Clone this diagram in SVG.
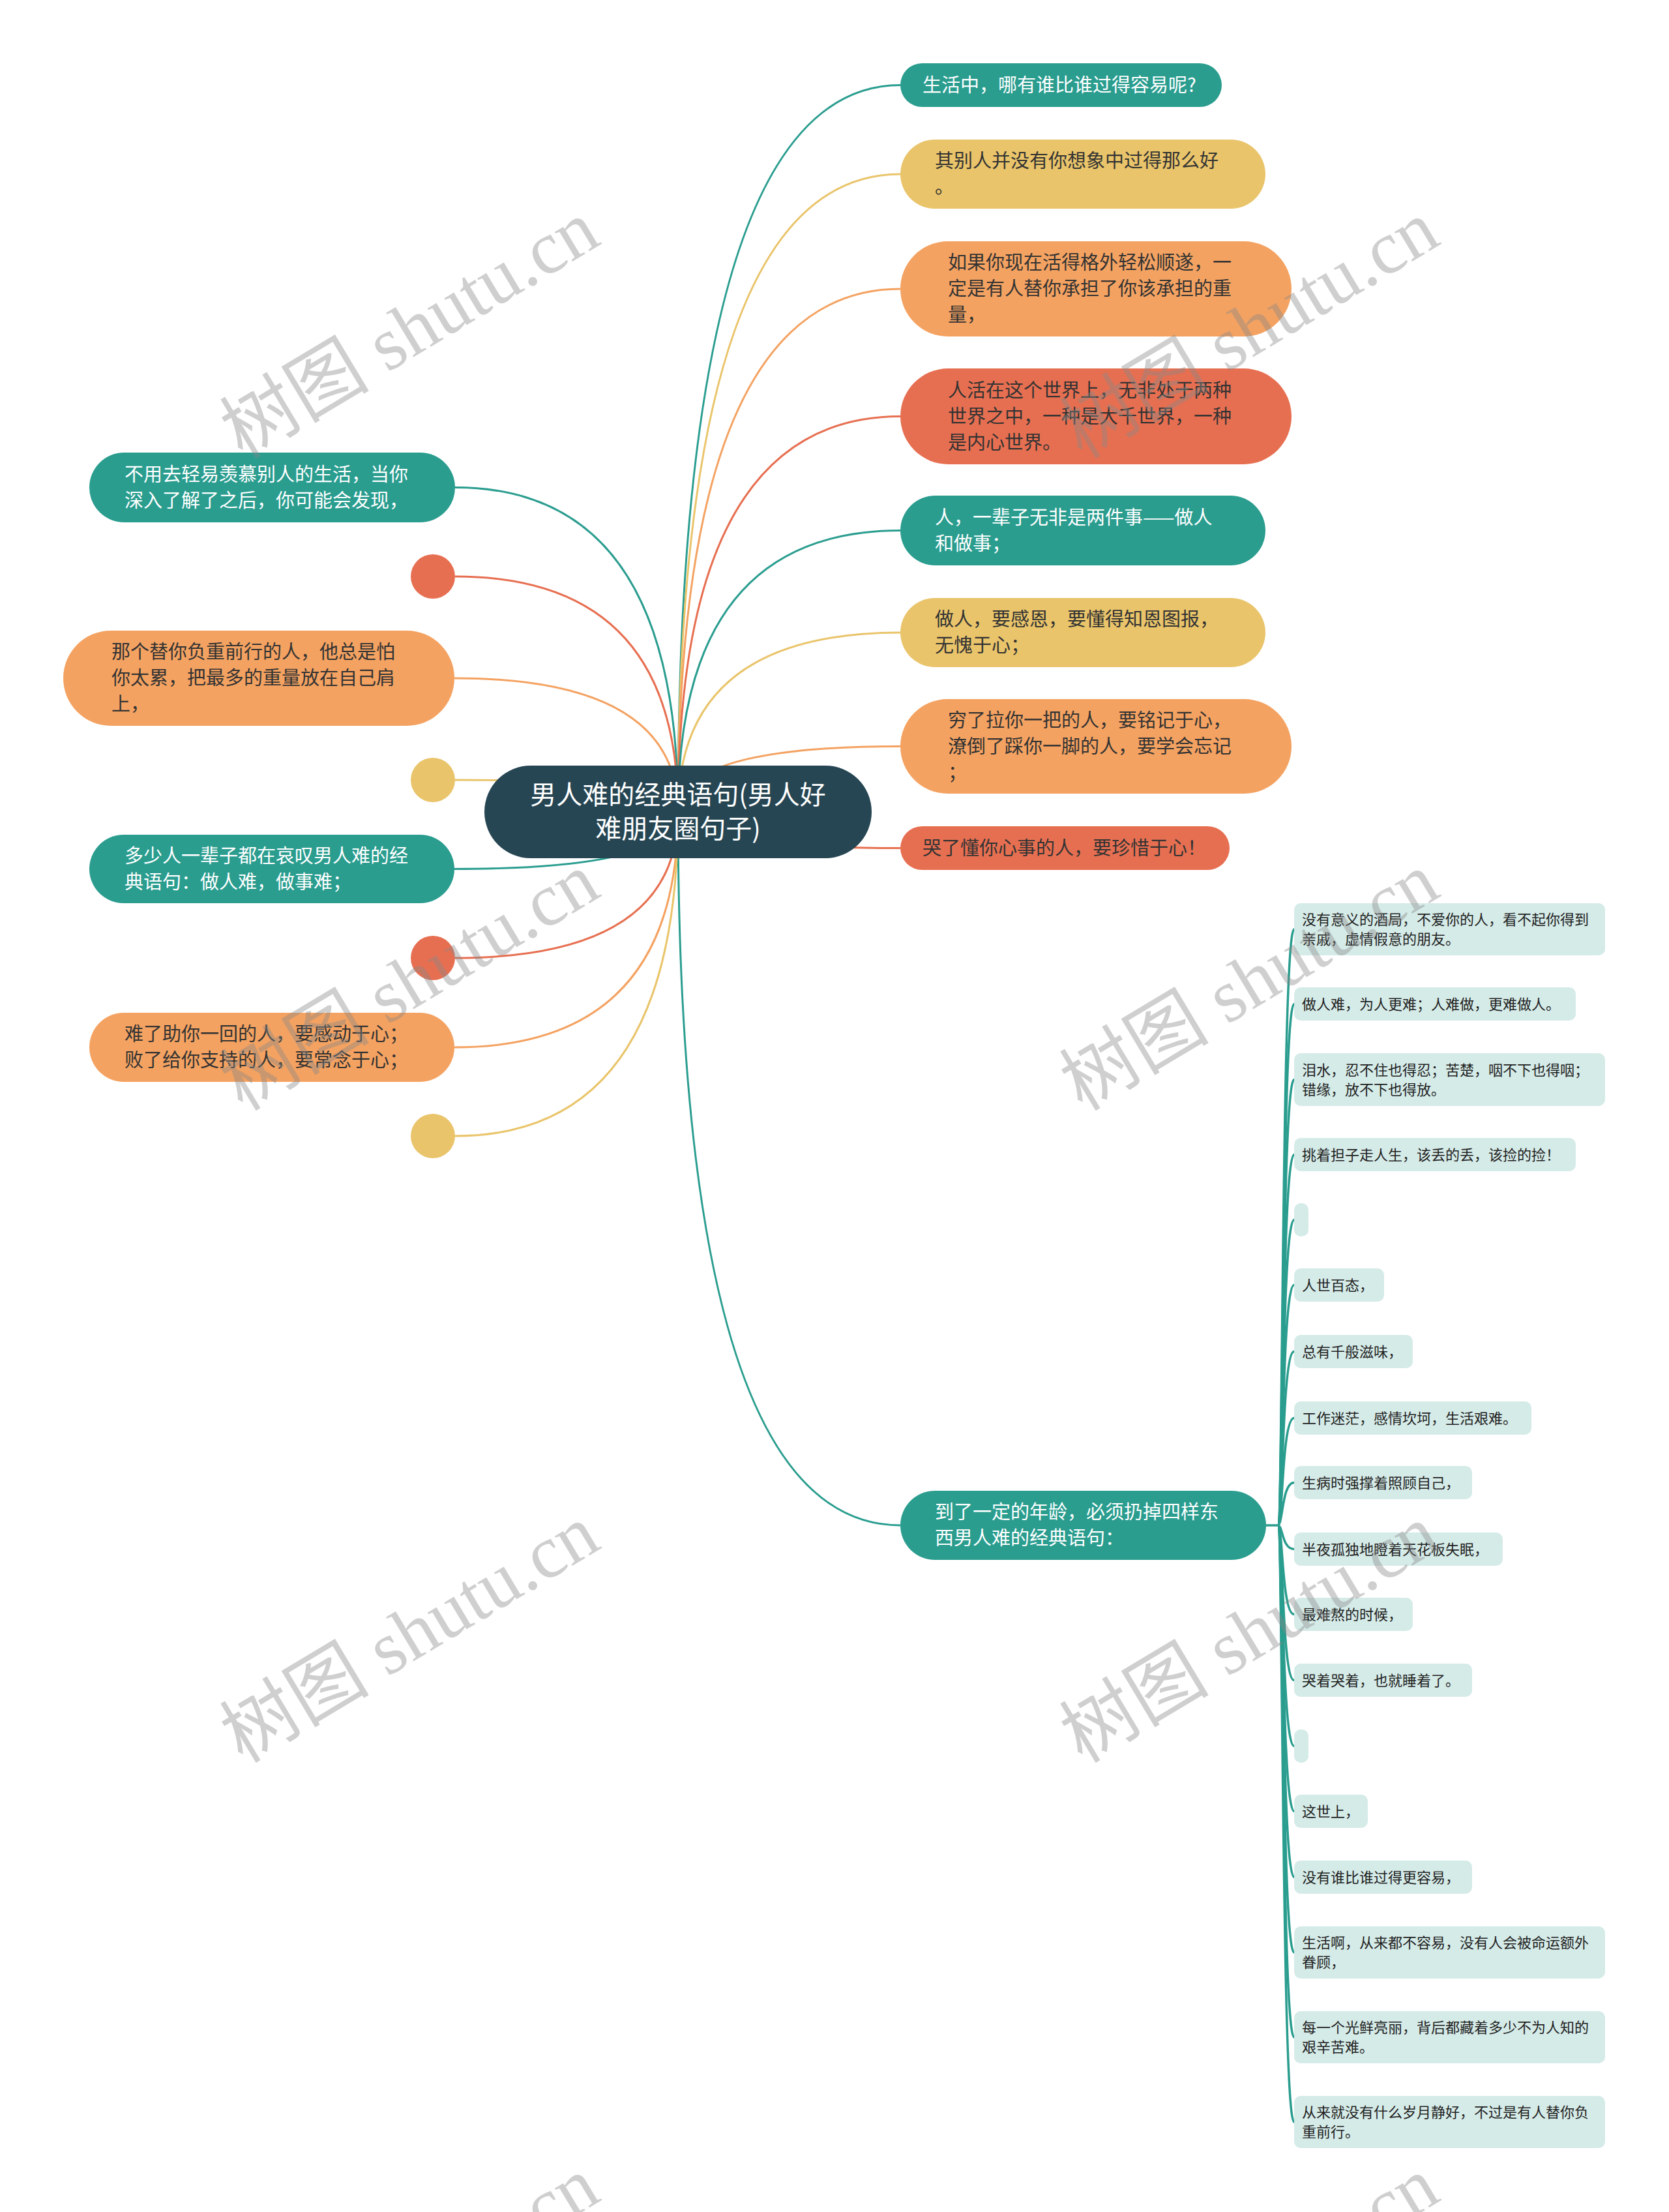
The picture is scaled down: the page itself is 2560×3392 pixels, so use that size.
<svg xmlns="http://www.w3.org/2000/svg" width="2560" height="3392" viewBox="0 0 2560 3392">
<style>
.t{font-family:"Noto Sans CJK SC","Noto Sans",sans-serif;}
.m{font-size:29px;}
.r{font-size:40px;fill:#fff;}
.c{font-size:22px;fill:#222;}
.w{fill:#fff;}
.d{fill:#333;}
.lk{fill:none;stroke-width:3;}
.ck{fill:none;stroke-width:3.5;stroke:#2a9d8f;}
.teal{fill:#2a9d8f;} .yel{fill:#e9c46a;} .ora{fill:#f4a261;} .red{fill:#e76f51;}
.sc{stroke:#2a9d8f;} .sy{stroke:#e9c46a;} .so{stroke:#f4a261;} .sr{stroke:#e76f51;}
.ch{fill:#d5ebe8;}
.wm{font-family:"Liberation Serif","Noto Sans CJK SC",serif;font-size:115px;fill:#888;opacity:0.4;}
</style>
<rect width="2560" height="3392" fill="#fff"/>
<g id="connectors">
<path class="lk sc" d="M1040 1245 Q1040 130.5 1381 130.5"/>
<path class="lk sy" d="M1040 1245 Q1040 267 1381 267"/>
<path class="lk so" d="M1040 1245 Q1040 443 1381 443"/>
<path class="lk sr" d="M1040 1245 Q1040 638.5 1381 638.5"/>
<path class="lk sc" d="M1040 1245 Q1040 813.5 1381 813.5"/>
<path class="lk sy" d="M1040 1245 Q1040 970 1381 970"/>
<path class="lk so" d="M1040 1245 Q1040 1144.5 1381 1144.5"/>
<path class="lk sr" d="M1040 1245 Q1040 1300.5 1381 1300.5"/>
<path class="lk sc" d="M1040 1245 Q1040 2339 1381 2339"/>
<path class="lk sc" d="M1040 1245 Q1040 747.5 698 747.5"/>
<path class="lk sr" d="M1040 1245 Q1040 884 698 884"/>
<path class="lk so" d="M1040 1245 Q1040 1040 697 1040"/>
<path class="lk sy" d="M1040 1245 Q1040 1196 698 1196"/>
<path class="lk sc" d="M1040 1245 Q1040 1332.5 697 1332.5"/>
<path class="lk sr" d="M1040 1245 Q1040 1469 698 1469"/>
<path class="lk so" d="M1040 1245 Q1040 1606 697 1606"/>
<path class="lk sy" d="M1040 1245 Q1040 1742 698 1742"/>
<path class="ck" d="M1942 2339 H1960"/>
<path class="ck" d="M1960 2339 C1968 2339 1966 1425 1985 1425"/>
<path class="ck" d="M1960 2339 C1968 2339 1966 1539.5 1985 1539.5"/>
<path class="ck" d="M1960 2339 C1968 2339 1966 1655.5 1985 1655.5"/>
<path class="ck" d="M1960 2339 C1968 2339 1966 1770.5 1985 1770.5"/>
<path class="ck" d="M1960 2339 C1968 2339 1966 1870.5 1985 1870.5"/>
<path class="ck" d="M1960 2339 C1968 2339 1966 1970.5 1985 1970.5"/>
<path class="ck" d="M1960 2339 C1968 2339 1966 2072.5 1985 2072.5"/>
<path class="ck" d="M1960 2339 C1968 2339 1966 2174.5 1985 2174.5"/>
<path class="ck" d="M1960 2339 C1968 2339 1966 2273.5 1985 2273.5"/>
<path class="ck" d="M1960 2339 C1968 2339 1966 2375.5 1985 2375.5"/>
<path class="ck" d="M1960 2339 C1968 2339 1966 2475.5 1985 2475.5"/>
<path class="ck" d="M1960 2339 C1968 2339 1966 2576.5 1985 2576.5"/>
<path class="ck" d="M1960 2339 C1968 2339 1966 2677.5 1985 2677.5"/>
<path class="ck" d="M1960 2339 C1968 2339 1966 2777.5 1985 2777.5"/>
<path class="ck" d="M1960 2339 C1968 2339 1966 2878.5 1985 2878.5"/>
<path class="ck" d="M1960 2339 C1968 2339 1966 2994 1985 2994"/>
<path class="ck" d="M1960 2339 C1968 2339 1966 3124 1985 3124"/>
<path class="ck" d="M1960 2339 C1968 2339 1966 3254 1985 3254"/>
</g>
<g id="root">
<rect x="743" y="1174" width="594" height="142" rx="71" fill="#264653"/>
<text class="t r" text-anchor="middle"><tspan x="1040" y="1233">男人难的经典语句(男人好</tspan><tspan x="1040" y="1285">难朋友圈句子)</tspan></text>
</g>
<g id="r1"><rect class="teal" x="1381" y="97" width="493" height="67" rx="33.5"/><text class="t m w" x="1415" y="140.5">生活中，哪有谁比谁过得容易呢?</text></g>
<g id="r2"><rect class="yel" x="1381" y="214" width="560" height="106" rx="53"/><text class="t m d"><tspan x="1434" y="257">其别人并没有你想象中过得那么好</tspan><tspan x="1434" y="297">。</tspan></text></g>
<g id="r3"><rect class="ora" x="1381" y="370" width="600" height="146" rx="73"/><text class="t m d"><tspan x="1454" y="413">如果你现在活得格外轻松顺遂，一</tspan><tspan x="1454" y="453">定是有人替你承担了你该承担的重</tspan><tspan x="1454" y="493">量，</tspan></text></g>
<g id="r4"><rect class="red" x="1381" y="565" width="600" height="147" rx="73.5"/><text class="t m d"><tspan x="1454" y="608.5">人活在这个世界上，无非处于两种</tspan><tspan x="1454" y="648.5">世界之中，一种是大千世界，一种</tspan><tspan x="1454" y="688.5">是内心世界。</tspan></text></g>
<g id="r5"><rect class="teal" x="1381" y="760" width="560" height="107" rx="53.5"/><text class="t m w"><tspan x="1434" y="803.5">人，一辈子无非是两件事——做人</tspan><tspan x="1434" y="843.5">和做事；</tspan></text></g>
<g id="r6"><rect class="yel" x="1381" y="917" width="560" height="106" rx="53"/><text class="t m d"><tspan x="1434" y="960">做人，要感恩，要懂得知恩图报，</tspan><tspan x="1434" y="1000">无愧于心；</tspan></text></g>
<g id="r7"><rect class="ora" x="1381" y="1072" width="600" height="145" rx="72.5"/><text class="t m d"><tspan x="1454" y="1114.5">穷了拉你一把的人，要铭记于心，</tspan><tspan x="1454" y="1154.5">潦倒了踩你一脚的人，要学会忘记</tspan><tspan x="1454" y="1194.5">；</tspan></text></g>
<g id="r8"><rect class="red" x="1381" y="1267" width="505" height="67" rx="33.5"/><text class="t m d" x="1415" y="1310.5">哭了懂你心事的人，要珍惜于心！</text></g>
<g id="r9"><rect class="teal" x="1381" y="2286" width="561" height="106" rx="53"/><text class="t m w"><tspan x="1434" y="2329">到了一定的年龄，必须扔掉四样东</tspan><tspan x="1434" y="2369">西男人难的经典语句：</tspan></text></g>
<g id="l1"><rect class="teal" x="137" y="694" width="561" height="107" rx="53.5"/><text class="t m w"><tspan x="191" y="737.5">不用去轻易羡慕别人的生活，当你</tspan><tspan x="191" y="777.5">深入了解了之后，你可能会发现，</tspan></text></g>
<g id="l2"><circle class="red" cx="664" cy="884" r="34"/></g>
<g id="l3"><rect class="ora" x="97" y="967" width="600" height="146" rx="73"/><text class="t m d"><tspan x="171" y="1010">那个替你负重前行的人，他总是怕</tspan><tspan x="171" y="1050">你太累，把最多的重量放在自己肩</tspan><tspan x="171" y="1090">上，</tspan></text></g>
<g id="l4"><circle class="yel" cx="664" cy="1196" r="34"/></g>
<g id="l5"><rect class="teal" x="137" y="1280" width="560" height="105" rx="52.5"/><text class="t m w"><tspan x="191" y="1322.5">多少人一辈子都在哀叹男人难的经</tspan><tspan x="191" y="1362.5">典语句：做人难，做事难；</tspan></text></g>
<g id="l6"><circle class="red" cx="664" cy="1469" r="34"/></g>
<g id="l7"><rect class="ora" x="137" y="1553" width="560" height="106" rx="53"/><text class="t m d"><tspan x="191" y="1596">难了助你一回的人，要感动于心；</tspan><tspan x="191" y="1636">败了给你支持的人，要常念于心；</tspan></text></g>
<g id="l8"><circle class="yel" cx="664" cy="1742" r="34"/></g>
<g id="c1"><rect class="ch" x="1985" y="1385" width="477" height="80" rx="10"/><text class="t c"><tspan x="1997" y="1418">没有意义的酒局，不爱你的人，看不起你得到</tspan><tspan x="1997" y="1448">亲戚，虚情假意的朋友。</tspan></text></g>
<g id="c2"><rect class="ch" x="1985" y="1514" width="432" height="51" rx="10"/><text class="t c" x="1997" y="1547.5">做人难，为人更难；人难做，更难做人。</text></g>
<g id="c3"><rect class="ch" x="1985" y="1615" width="477" height="81" rx="10"/><text class="t c"><tspan x="1997" y="1648.5">泪水，忍不住也得忍；苦楚，咽不下也得咽；</tspan><tspan x="1997" y="1678.5">错缘，放不下也得放。</tspan></text></g>
<g id="c4"><rect class="ch" x="1985" y="1745" width="432" height="51" rx="10"/><text class="t c" x="1997" y="1778.5">挑着担子走人生，该丢的丢，该捡的捡！</text></g>
<g id="c5"><rect class="ch" x="1985" y="1845" width="22" height="51" rx="10"/></g>
<g id="c6"><rect class="ch" x="1985" y="1945" width="138" height="51" rx="10"/><text class="t c" x="1997" y="1978.5">人世百态，</text></g>
<g id="c7"><rect class="ch" x="1985" y="2047" width="182" height="51" rx="10"/><text class="t c" x="1997" y="2080.5">总有千般滋味，</text></g>
<g id="c8"><rect class="ch" x="1985" y="2149" width="364" height="51" rx="10"/><text class="t c" x="1997" y="2182.5">工作迷茫，感情坎坷，生活艰难。</text></g>
<g id="c9"><rect class="ch" x="1985" y="2248" width="273" height="51" rx="10"/><text class="t c" x="1997" y="2281.5">生病时强撑着照顾自己，</text></g>
<g id="c10"><rect class="ch" x="1985" y="2350" width="320" height="51" rx="10"/><text class="t c" x="1997" y="2383.5">半夜孤独地瞪着天花板失眠，</text></g>
<g id="c11"><rect class="ch" x="1985" y="2450" width="182" height="51" rx="10"/><text class="t c" x="1997" y="2483.5">最难熬的时候，</text></g>
<g id="c12"><rect class="ch" x="1985" y="2551" width="273" height="51" rx="10"/><text class="t c" x="1997" y="2584.5">哭着哭着，也就睡着了。</text></g>
<g id="c13"><rect class="ch" x="1985" y="2652" width="22" height="51" rx="10"/></g>
<g id="c14"><rect class="ch" x="1985" y="2752" width="113" height="51" rx="10"/><text class="t c" x="1997" y="2785.5">这世上，</text></g>
<g id="c15"><rect class="ch" x="1985" y="2853" width="273" height="51" rx="10"/><text class="t c" x="1997" y="2886.5">没有谁比谁过得更容易，</text></g>
<g id="c16"><rect class="ch" x="1985" y="2954" width="477" height="80" rx="10"/><text class="t c"><tspan x="1997" y="2987">生活啊，从来都不容易，没有人会被命运额外</tspan><tspan x="1997" y="3017">眷顾，</tspan></text></g>
<g id="c17"><rect class="ch" x="1985" y="3084" width="477" height="80" rx="10"/><text class="t c"><tspan x="1997" y="3117">每一个光鲜亮丽，背后都藏着多少不为人知的</tspan><tspan x="1997" y="3147">艰辛苦难。</tspan></text></g>
<g id="c18"><rect class="ch" x="1985" y="3214" width="477" height="80" rx="10"/><text class="t c"><tspan x="1997" y="3247">从来就没有什么岁月静好，不过是有人替你负</tspan><tspan x="1997" y="3277">重前行。</tspan></text></g>
<g id="watermarks">
<text class="wm" transform="translate(372,705) rotate(-31)">树图 shutu.cn</text>
<text class="wm" transform="translate(1660,705) rotate(-31)">树图 shutu.cn</text>
<text class="wm" transform="translate(372,1705) rotate(-31)">树图 shutu.cn</text>
<text class="wm" transform="translate(1660,1705) rotate(-31)">树图 shutu.cn</text>
<text class="wm" transform="translate(372,2705) rotate(-31)">树图 shutu.cn</text>
<text class="wm" transform="translate(1660,2705) rotate(-31)">树图 shutu.cn</text>
<text class="wm" transform="translate(372,3705) rotate(-31)">树图 shutu.cn</text>
<text class="wm" transform="translate(1660,3705) rotate(-31)">树图 shutu.cn</text>
</g>
</svg>
